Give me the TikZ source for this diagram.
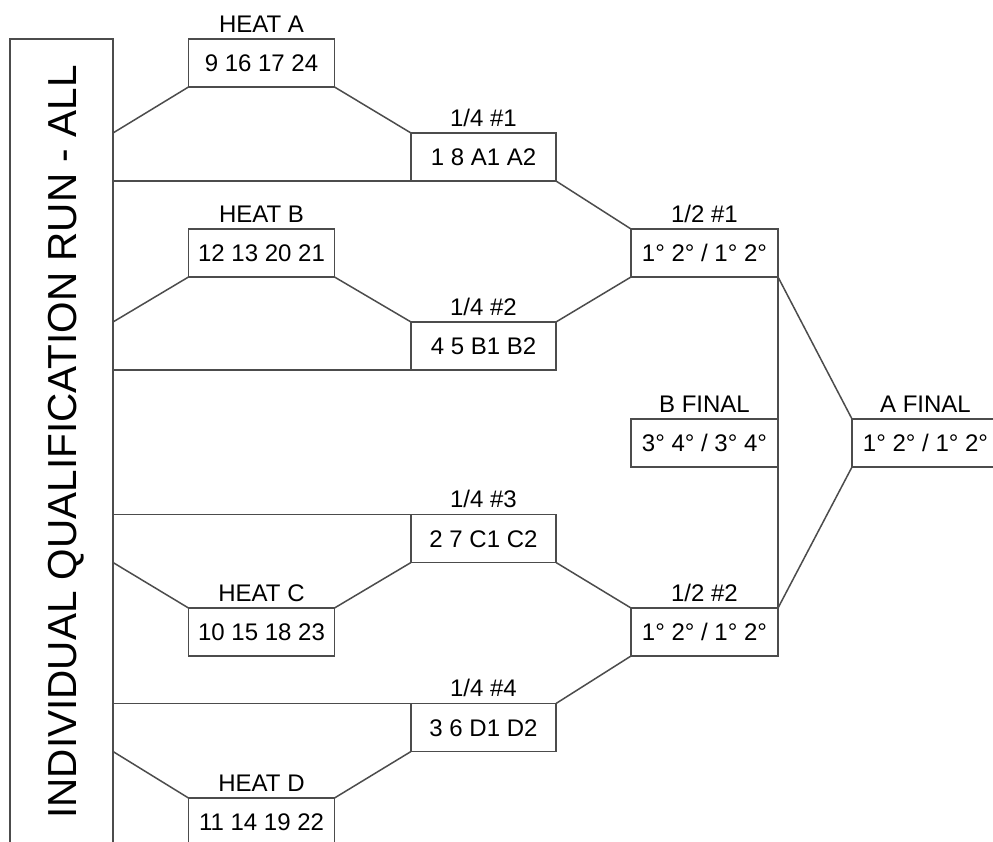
\documentclass[tikz,border=0pt]{standalone}
\usepackage{fontspec}
\setmainfont{Liberation Sans}
\begin{document}
\begin{tikzpicture}[x=1pt,y=-1pt,
  bx/.style={draw=black!70, line width=1.5pt, rectangle, inner sep=0pt, outer sep=0pt,
    minimum width=146pt, minimum height=48pt, fill=white,
    font=\fontsize{24}{28}\selectfont, text height=17.2pt, text depth=0pt,
    label distance=0pt},
  lab/.style={font=\fontsize{24}{28}\selectfont, inner sep=0pt, text height=17.2pt, text depth=0pt, yshift=6.5pt},
  conn/.style={draw=black!70, line width=1.5pt},
  big/.style={font=\fontsize{40.5}{48}\selectfont, inner sep=0pt, text height=29pt, text depth=0pt}]
\useasboundingbox (0,0) rectangle (993,842);
\clip (0,0) rectangle (993,842);
\fill[white] (0,0) rectangle (993,842);

\node[draw=black!70, line width=1.5pt, rectangle, inner sep=0pt, outer sep=0pt,
  minimum width=103pt, minimum height=861pt] (lb) at (61.5,469.5) {};
\node[big, rotate=90] (lbt) at (62,442) {INDIVIDUAL QUALIFICATION RUN - ALL};

\node[bx, label={[lab]above:HEAT A}] (ha) at (261.5,63) {9 16 17 24};
\node[bx, label={[lab]above:HEAT B}] (hb) at (261.5,253) {12 13 20 21};
\node[bx, label={[lab]above:HEAT C}] (hc) at (261.5,632) {10 15 18 23};
\node[bx, label={[lab]above:HEAT D}] (hd) at (261.5,822) {11 14 19 22};

\node[bx, minimum width=145pt, label={[lab]above:1/4 \#1}] (q1) at (483.5,157) {1 8 A1 A2};
\node[bx, minimum width=145pt, label={[lab]above:1/4 \#2}] (q2) at (483.5,346) {4 5 B1 B2};
\node[bx, minimum width=145pt, label={[lab]above:1/4 \#3}] (q3) at (483.5,538.5) {2 7 C1 C2};
\node[bx, minimum width=145pt, label={[lab]above:1/4 \#4}] (q4) at (483.5,727.5) {3 6 D1 D2};

\node[bx, minimum width=147pt, label={[lab]above:1/2 \#1}] (s1) at (704.5,253) {1° 2° / 1° 2°};
\node[bx, minimum width=147pt, label={[lab]above:1/2 \#2}] (s2) at (704.5,632) {1° 2° / 1° 2°};
\node[bx, minimum width=147pt, label={[lab]above:B FINAL}] (bf) at (704.5,443) {3° 4° / 3° 4°};
\node[bx, minimum width=147pt, label={[lab]above:A FINAL}] (af) at (925.5,443) {1° 2° / 1° 2°};

% heat A / quarter 1
\draw[conn] (lb.east |- q1.north) -- (ha.south west);
\draw[conn] (ha.south east) -- (q1.north west);
\draw[conn] (lb.east |- q1.south) -- (q1.south west);
% heat B / quarter 2
\draw[conn] (lb.east |- q2.north) -- (hb.south west);
\draw[conn] (hb.south east) -- (q2.north west);
\draw[conn] (lb.east |- q2.south) -- (q2.south west);
% semi 1
\draw[conn] (q1.south east) -- (s1.north west);
\draw[conn] (q2.north east) -- (s1.south west);
% quarter 3 / heat C
\draw[conn] (lb.east |- q3.north) -- (q3.north west);
\draw[conn] (lb.east |- q3.south) -- (hc.north west);
\draw[conn] (hc.north east) -- (q3.south west);
% quarter 4 / heat D
\draw[conn] (lb.east |- q4.north) -- (q4.north west);
\draw[conn] (lb.east |- q4.south) -- (hd.north west);
\draw[conn] (hd.north east) -- (q4.south west);
% semi 2
\draw[conn] (q3.south east) -- (s2.north west);
\draw[conn] (q4.north east) -- (s2.south west);
% finals
\draw[conn] (s1.south east) -- (s2.north east);
\draw[conn] (s1.south east) -- (af.north west);
\draw[conn] (af.south west) -- (s2.north east);
\end{tikzpicture}
\end{document}
